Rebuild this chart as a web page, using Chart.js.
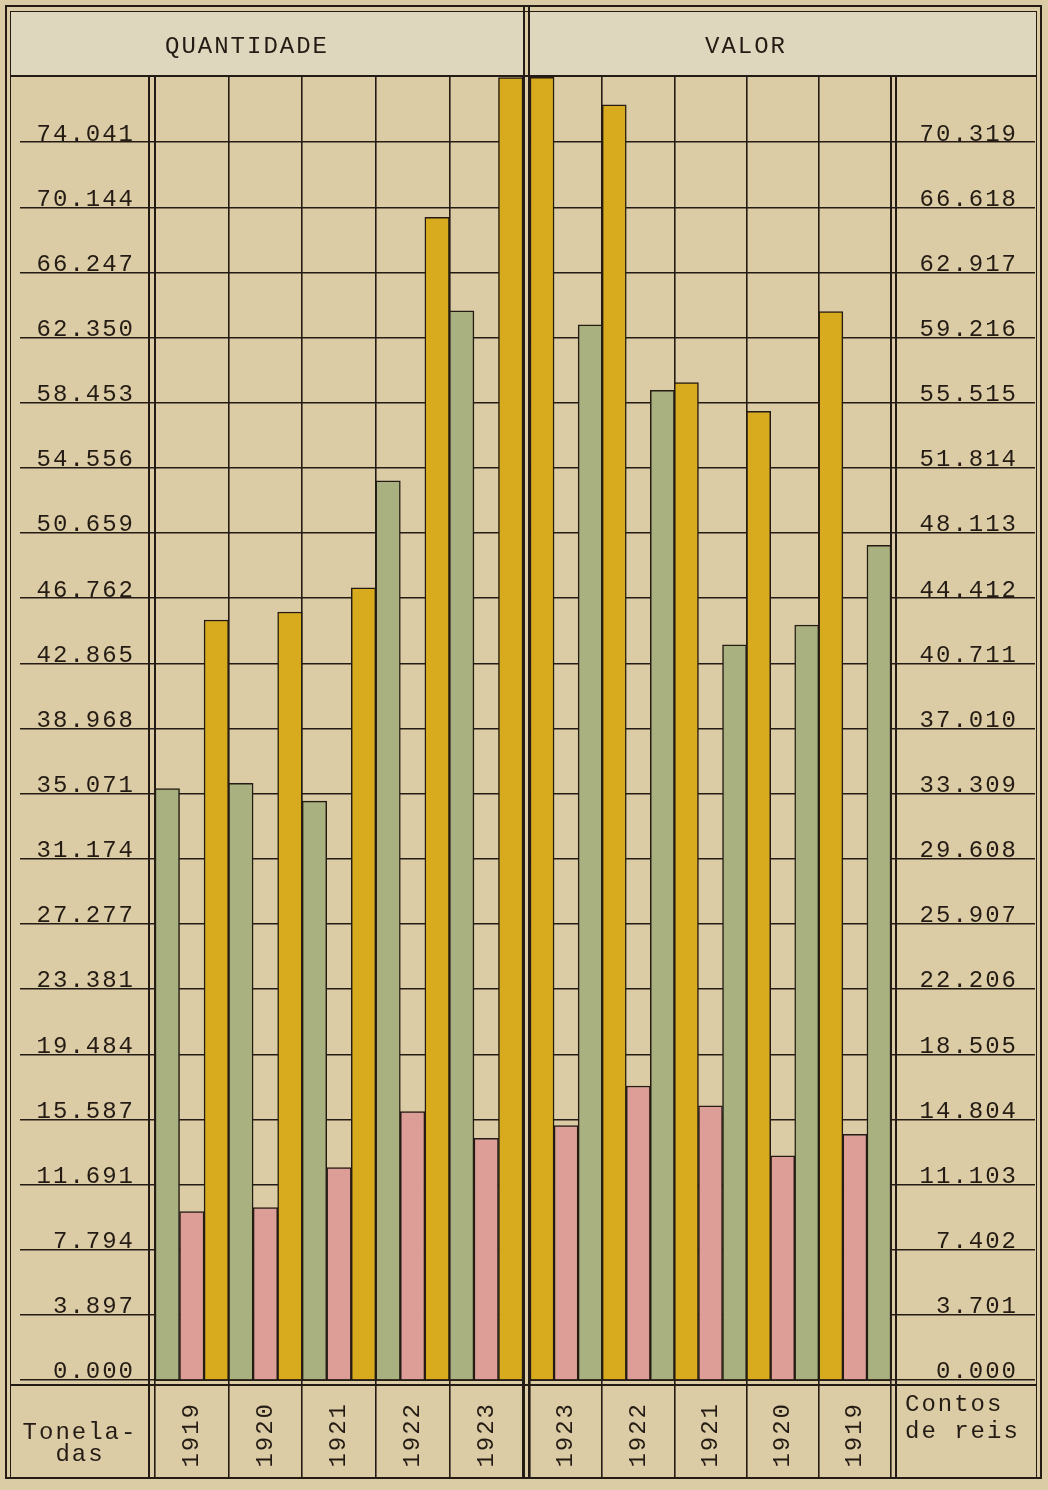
<!DOCTYPE html>
<html lang="pt">
<head>
<meta charset="utf-8">
<title>Quantidade e valor, 1919–1923</title>
<script src="https://cdn.jsdelivr.net/npm/chart.js@4.4.1/dist/chart.umd.min.js"></script>
<style>
  html, body { margin: 0; padding: 0; background: #d9cba5; }
  #sheet {
    position: relative; width: 1048px; height: 1490px; overflow: hidden;
    background: #dccca6;
    font-family: "Liberation Mono", "DejaVu Sans Mono", monospace;
    color: #241c14;
  }
  canvas { position: absolute; top: 0; }
  #qty { left: 0; }
  #val { left: 527px; }
  .band { position: absolute; background: #ded7bd; }
  .rule { position: absolute; background: #241c14; }
  .caption { position: absolute; font-size: 24px; letter-spacing: 2px; line-height: 27px; white-space: nowrap; }
</style>
</head>
<body>
<div id="sheet">
  <div class="band" style="left:10px; top:12px; width:513px; height:63px"></div>
  <div class="band" style="left:530px; top:12px; width:506px; height:63px"></div>
  <canvas id="qty" width="527" height="1490"></canvas>
  <canvas id="val" width="521" height="1490"></canvas>
  <div class="caption" style="left:165px; top:33px">QUANTIDADE</div>
  <div class="caption" style="left:705px; top:33px">VALOR</div>
  <div class="caption" style="left:18px; top:1422px; width:124px; text-align:center; line-height:22px">Tonela-<br>das</div>
  <div class="caption" style="left:905px; top:1391px">Contos<br>de reis</div>
</div>

<script>
// Years, left panel (tonnage) and right panel (value, listed from 1923 back to 1919)
const QTY_YEARS = ['1919', '1920', '1921', '1922', '1923'];
const VAL_YEARS = ['1923', '1922', '1921', '1920', '1919'];

// Quantity in tonnes
const QTY_GREEN  = [35370, 35690, 34630, 53790, 63960];
const QTY_PINK   = [10070, 10310, 12700, 16050, 14460];
const QTY_YELLOW = [45460, 45940, 47390, 69550, 77900];

// Value in contos de reis (1923 → 1919)
const VAL_YELLOW = [74000, 72440, 56660, 55030, 60700];
const VAL_PINK   = [14450, 16700, 15570, 12740, 13960];
const VAL_GREEN  = [59940, 56220, 41760, 42890, 47420];

// Scale ticks as printed on each side
const QTY_STEP = 3897;
const QTY_TICKS = ['0.000', '3.897', '7.794', '11.691', '15.587', '19.484', '23.381', '27.277',
  '31.174', '35.071', '38.968', '42.865', '46.762', '50.659', '54.556', '58.453', '62.350',
  '66.247', '70.144', '74.041'];
const VAL_STEP = 3701;
const VAL_TICKS = ['0.000', '3.701', '7.402', '11.103', '14.804', '18.505', '22.206', '25.907',
  '29.608', '33.309', '37.010', '40.711', '44.412', '48.113', '51.814', '55.515', '59.216',
  '62.917', '66.618', '70.319'];

const INK = '#241c14';
const GREEN = '#a8b17f';
const PINK = '#dc9e96';
const YELLOW = '#d8aa1d';
const FONT = '"Liberation Mono", "DejaVu Sans Mono", monospace';

// Typewriter lettering: a little extra pitch between characters
const typewriter = {
  id: 'typewriter',
  beforeDraw(chart) { chart.ctx.letterSpacing = '2px'; }
};

function barSet(label, data, color) {
  return {
    label, data,
    backgroundColor: color,
    borderColor: INK,
    borderWidth: 1.5,
    borderSkipped: 'start',
    barPercentage: 1,
    categoryPercentage: 1
  };
}

function panel(canvas, cfg) {
  const left = cfg.side === 'left';
  return new Chart(canvas, {
    type: 'bar',
    data: { labels: cfg.years, datasets: cfg.datasets },
    plugins: [typewriter],
    options: {
      responsive: false,
      animation: false,
      layout: { padding: cfg.padding },
      plugins: { legend: { display: false }, tooltip: { enabled: false }, title: { display: false } },
      scales: {
        x: {
          offset: true,
          grid: { offset: true, color: INK, lineWidth: 1.6, drawTicks: true, tickLength: 98, tickColor: INK, tickWidth: 1.6 },
          border: { display: true, color: INK, width: 2 },
          ticks: {
            autoSkip: false, minRotation: 90, maxRotation: 90, padding: -76,
            color: INK, font: { family: FONT, size: 24 }
          },
          afterFit(scale) { scale.height = 100; }
        },
        y: {
          position: cfg.side,
          min: 0,
          max: cfg.step * 20,
          grid: { color: INK, lineWidth: 1.5, drawTicks: true, tickLength: left ? 135 : 144, tickColor: INK, tickWidth: 1.5 },
          border: { display: true, color: INK, width: 2 },
          afterBuildTicks(scale) { scale.ticks = cfg.ticks.map((_, i) => ({ value: i * cfg.step })); },
          ticks: {
            autoSkip: false,
            callback: (v, i) => cfg.ticks[i],
            crossAlign: left ? 'near' : 'far',
            padding: left ? -115 : 0,
            labelOffset: -8,
            color: INK,
            font: { family: FONT, size: 24 }
          },
          afterFit(scale) { scale.width = cfg.axisWidth; }
        }
      }
    }
  });
}

panel(document.getElementById('qty'), {
  side: 'left',
  years: QTY_YEARS,
  datasets: [barSet('verde', QTY_GREEN, GREEN), barSet('rosa', QTY_PINK, PINK), barSet('total', QTY_YELLOW, YELLOW)],
  ticks: QTY_TICKS,
  step: QTY_STEP,
  axisWidth: 147,
  padding: { left: 8, right: 4, top: 77, bottom: 10 }
});

panel(document.getElementById('val'), {
  side: 'right',
  years: VAL_YEARS,
  datasets: [barSet('total', VAL_YELLOW, YELLOW), barSet('rosa', VAL_PINK, PINK), barSet('verde', VAL_GREEN, GREEN)],
  ticks: VAL_TICKS,
  step: VAL_STEP,
  axisWidth: 127,
  padding: { left: 3, right: 30, top: 77, bottom: 10 }
});

// Ruled frame of the sheet
const sheet = document.getElementById('sheet');
function rule(x, y, w, h) {
  const d = document.createElement('div');
  d.className = 'rule';
  d.style.left = x + 'px'; d.style.top = y + 'px';
  d.style.width = w + 'px'; d.style.height = h + 'px';
  sheet.appendChild(d);
}
rule(5, 5, 1037, 2);       // outer top
rule(5, 1477, 1037, 2);    // outer bottom
rule(5, 5, 2, 1474);       // outer left
rule(1040, 5, 2, 1474);    // outer right
rule(10, 11, 1027, 1);     // inner top
rule(10, 11, 1, 1467);     // inner left
rule(1036, 11, 1, 1467);   // inner right
rule(10, 75, 1027, 2);     // under the headings
rule(523, 5, 2, 1474);     // centre divider
rule(528, 5, 2, 1474);
rule(148, 77, 2, 1401);    // left scale divider
rule(895, 77, 2, 1401);    // right scale divider
rule(10, 1384, 1027, 2);   // top of the year band
</script>
</body>
</html>
